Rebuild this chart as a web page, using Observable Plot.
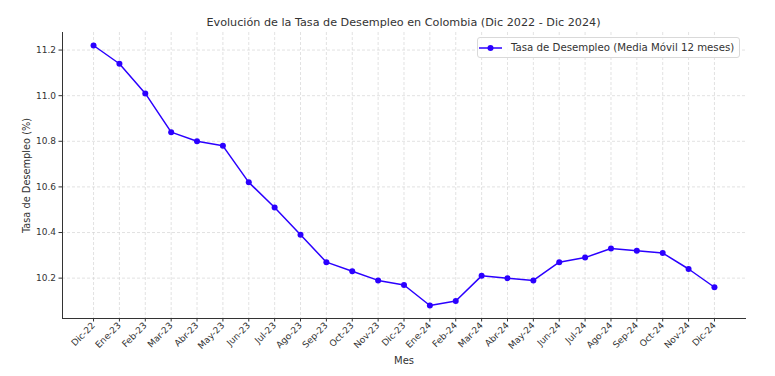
<!DOCTYPE html>
<html>
<head>
<meta charset="utf-8">
<script src="https://cdn.jsdelivr.net/npm/d3@7"></script>
<script src="https://cdn.jsdelivr.net/npm/@observablehq/plot@0.6"></script>
<style>
  body { margin: 0; background: #fff; font-family: "DejaVu Sans", sans-serif; }
  #wrap { position: relative; width: 775px; height: 376px; }
  #title { height: 30px; width: 775px; box-sizing: border-box; padding-left: 32px; text-align: center; font-size: 11.2px; color: #333; line-height: 14px; padding-top: 16px; }
  #legend { position: absolute; left: 477px; top: 37px; width: 263px; height: 21px; box-sizing: border-box; border: 1px solid #d9d9d9; border-radius: 3px; background: rgba(255,255,255,0.85); font-size: 10.2px; color: #333; display: flex; align-items: center; white-space: nowrap; }
  #legend svg { margin-left: 1px; margin-right: 8px; }
</style>
</head>
<body>
<div id="wrap">
  <div id="title">Evolución de la Tasa de Desempleo en Colombia (Dic 2022 - Dic 2024)</div>
  <div id="chart"></div>
  <div id="legend"><svg width="24" height="10"><line x1="0" x2="23" y1="5" y2="5" stroke="#2b00ff" stroke-width="1.5"/><circle cx="11.5" cy="5" r="3" fill="#2b00ff"/></svg><span>Tasa de Desempleo (Media Móvil 12 meses)</span></div>
</div>
<script>
const months = ["Dic-22","Ene-23","Feb-23","Mar-23","Abr-23","May-23","Jun-23","Jul-23","Ago-23","Sep-23","Oct-23","Nov-23","Dic-23","Ene-24","Feb-24","Mar-24","Abr-24","May-24","Jun-24","Jul-24","Ago-24","Sep-24","Oct-24","Nov-24","Dic-24"];
const rates = [11.22,11.14,11.01,10.84,10.80,10.78,10.62,10.51,10.39,10.27,10.23,10.19,10.17,10.08,10.10,10.21,10.20,10.19,10.27,10.29,10.33,10.32,10.31,10.24,10.16];
const yTicks = [10.2,10.4,10.6,10.8,11.0,11.2];

const data = months.map((m, i) => ({i, m, v: rates[i]}));
const n = months.length;
const pad = (n - 1) * 0.05;
const yMin = d3.min(rates), yMax = d3.max(rates);
const yPad = (yMax - yMin) * 0.05;
const color = "#2b00ff";

const chart = Plot.plot({
  width: 775,
  height: 346,
  marginTop: 2,
  marginLeft: 62,
  marginRight: 30,
  marginBottom: 58,
  style: { fontFamily: "DejaVu Sans, sans-serif", fontSize: "9px", color: "#333", background: "transparent" },
  x: { type: "linear", domain: [-pad, n - 1 + pad] },
  y: { domain: [yMin - yPad, yMax + yPad] },
  marks: [
    Plot.gridX(d3.range(n), { stroke: "#d6d6d6", strokeOpacity: 1, strokeDasharray: "3,2", strokeWidth: 0.7 }),
    Plot.gridY(yTicks, { stroke: "#d6d6d6", strokeOpacity: 1, strokeDasharray: "3,2", strokeWidth: 0.7 }),
    Plot.frame({ anchor: "left", stroke: "#333", strokeWidth: 1 }),
    Plot.frame({ anchor: "bottom", stroke: "#333", strokeWidth: 1 }),
    Plot.axisX(d3.range(n), {
      tickFormat: i => months[i], tickRotate: -45, tickSize: 3.5, tickPadding: 2, fontSize: 9, fill: "#333", label: null
    }),
    Plot.axisX({ ticks: [], label: "Mes", labelAnchor: "center", labelArrow: "none", labelOffset: 45, fontSize: 10, fill: "#333" }),
    Plot.axisY(yTicks, {
      tickFormat: d3.format(".1f"), tickSize: 3.5, tickPadding: 3, fontSize: 9, fill: "#333", label: null
    }),
    Plot.axisY({ ticks: [], label: "Tasa de Desempleo (%)", labelAnchor: "center", labelArrow: "none", labelOffset: 39, fontSize: 9.8, fill: "#333" }),
    Plot.line(data, { x: "i", y: "v", stroke: color, strokeWidth: 1.5 }),
    Plot.dot(data, { x: "i", y: "v", fill: color, r: 3 })
  ]
});
document.getElementById("chart").appendChild(chart);
</script>
</body>
</html>
